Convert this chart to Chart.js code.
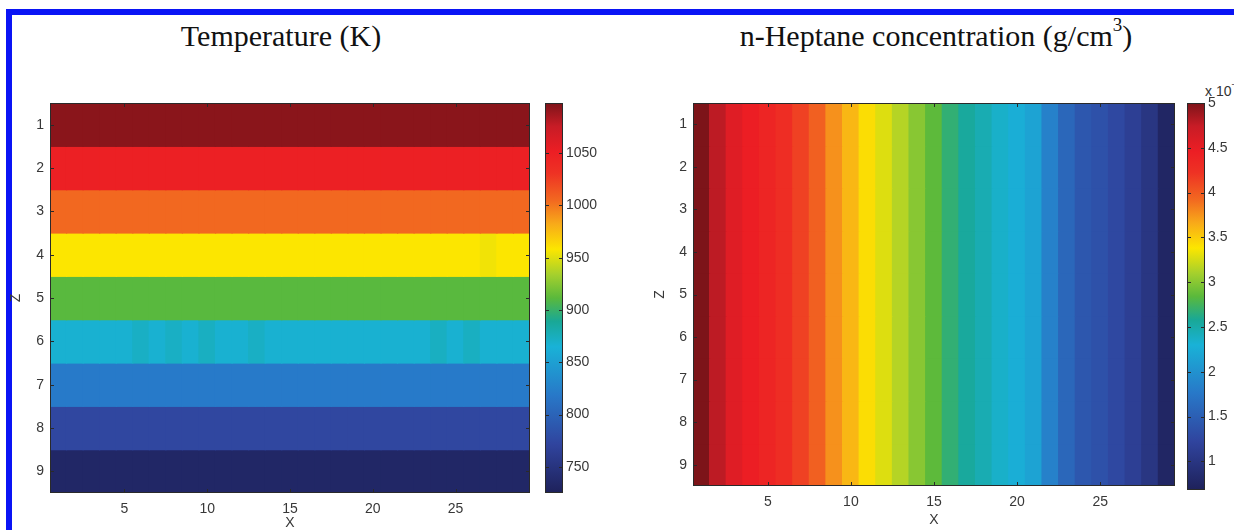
<!DOCTYPE html>
<html>
<head>
<meta charset="utf-8">
<script src="https://cdn.jsdelivr.net/npm/chart.js@4.4.1/dist/chart.umd.min.js"></script>
<style>
  html, body { margin: 0; padding: 0; background: #fff; }
  body { width: 1234px; height: 530px; position: relative; overflow: hidden; }
  canvas { position: absolute; top: 0; }
  .frame { position: absolute; left: 6px; top: 9px; width: 1300px; height: 600px;
           border-top: 6px solid #0a14f5; border-left: 6px solid #0a14f5; }
  .title { position: absolute; top: 21px; font-family: 'Liberation Serif', 'Times New Roman', serif;
           font-size: 30px; line-height: 30px; color: #111; white-space: nowrap; transform: translateX(-50%); }
  .title sup { font-size: 19px; position: relative; top: -4px; vertical-align: super; line-height: 0; }
  .exp { position: absolute; left: 1205px; top: 83px; font-family: 'Liberation Sans Narrow', 'Liberation Sans', sans-serif;
         font-size: 14px; color: #333; white-space: nowrap; }
  .exp sup { font-size: 9px; position: relative; top: -3px; line-height: 0; vertical-align: super; }
</style>
</head>
<body>
<div class="frame"></div>
<div class="title" style="left:281px">Temperature (K)</div>
<div class="title" style="left:936px">n-Heptane concentration (g/cm<sup>3</sup>)</div>
<div class="exp">x 10<sup>-3</sup></div>

<canvas id="tempMap" width="540" height="530" style="left:0px"></canvas>
<canvas id="tempBar" width="80" height="530" style="left:540px"></canvas>
<canvas id="heptMap" width="570" height="530" style="left:620px"></canvas>
<canvas id="heptBar" width="54" height="530" style="left:1180px"></canvas>

<script>
// Grid axes
const xCells = [1, 2, 3, 4, 5, 6, 7, 8, 9, 10, 11, 12, 13, 14, 15, 16, 17, 18, 19, 20, 21, 22, 23, 24, 25, 26, 27, 28, 29];
const zRows = [1, 2, 3, 4, 5, 6, 7, 8, 9];
const xTickVals = [5, 10, 15, 20, 25];
const zTickVals = [1, 2, 3, 4, 5, 6, 7, 8, 9];

// Temperature (K) - every Z row is nearly uniform along X
const tempRowValues = [1094, 1049, 1005, 958, 911, 867, 820, 774, 733];
// the few cells that differ a little from their row: [z, x, K]
const tempCellExceptions = [[6, 6, 872], [6, 8, 872], [6, 10, 873], [6, 13, 872], [6, 24, 873], [6, 26, 873], [4, 27, 955]];
const tempRange = [725, 1098];
const tempBarTicks = [750, 800, 850, 900, 950, 1000, 1050];

// n-Heptane concentration - uniform along Z, one value per X column
const heptColumnValues = [5.00, 4.78, 4.56, 4.46, 4.38, 4.28, 4.14, 3.97, 3.76, 3.60, 3.42, 3.28, 3.15, 3.00, 2.85,
                          2.68, 2.55, 2.46, 2.36, 2.26, 2.16, 1.84, 1.58, 1.42, 1.36, 1.26, 1.14, 1.00, 0.76];
const heptRange = [0.68, 5.0];
const heptBarTicks = [1, 1.5, 2, 2.5, 3, 3.5, 4, 4.5, 5];

// jet-like colormap, as it comes out in the printed figure
const cmapStops = [
    [0.000, [30, 33, 90]],
    [0.125, [48, 68, 158]],
    [0.250, [40, 120, 200]],
    [0.375, [25, 178, 215]],
    [0.440, [25, 168, 150]],
    [0.500, [90, 185, 60]],
    [0.560, [165, 208, 45]],
    [0.625, [252, 230, 0]],
    [0.690, [248, 170, 25]],
    [0.750, [242, 105, 32]],
    [0.820, [238, 50, 36]],
    [0.875, [236, 30, 36]],
    [0.940, [200, 28, 38]],
    [1.000, [125, 20, 25]]
];

function cmap(t) {
    t = Math.max(0, Math.min(1, t));
    for (let i = 1; i < cmapStops.length; i++) {
        const [t1, c1] = cmapStops[i];
        if (t <= t1) {
            const [t0, c0] = cmapStops[i - 1];
            const f = (t - t0) / (t1 - t0);
            const c = c0.map((v, k) => Math.round(v + (c1[k] - v) * f));
            return `rgb(${c[0]},${c[1]},${c[2]})`;
        }
    }
    return 'rgb(125,20,25)';
}

const colorFor = (v, range) => cmap((v - range[0]) / (range[1] - range[0]));

const tempGrid = zRows.map((z, r) => xCells.map(x => {
    const ex = tempCellExceptions.find(e => e[0] === z && e[1] === x);
    return ex ? ex[2] : tempRowValues[r];
}));
const heptGrid = zRows.map(() => heptColumnValues.slice());

const tickFont = { family: "'Liberation Sans Narrow', 'Liberation Sans', sans-serif", size: 14 };
const tickColor = '#383838';
const lineColor = '#2a2a2a';

// MATLAB style box with ticks pointing inwards on every side
const frameTicks = {
    id: 'frameTicks',
    afterDatasetsDraw(chart) {
        const { ctx, chartArea: a } = chart;
        const len = 4;
        ctx.save();
        ctx.strokeStyle = lineColor;
        ctx.lineWidth = 1;
        ctx.strokeRect(Math.round(a.left) + 0.5, Math.round(a.top) + 0.5, Math.round(a.width) - 1, Math.round(a.height) - 1);
        ctx.beginPath();
        const ys = chart.scales.y;
        ys.ticks.forEach((t, i) => {
            const py = Math.round(ys.getPixelForTick(i)) + 0.5;
            ctx.moveTo(a.left, py); ctx.lineTo(a.left + len, py);
            ctx.moveTo(a.right - len, py); ctx.lineTo(a.right, py);
        });
        const xs = chart.scales.x;
        if (xs.options.display !== false) {
            xs.ticks.forEach((t, i) => {
                if (!xTickVals.includes(+xs.getLabelForValue(t.value))) return;
                const px = Math.round(xs.getPixelForTick(i)) + 0.5;
                ctx.moveTo(px, a.top); ctx.lineTo(px, a.top + len);
                ctx.moveTo(px, a.bottom - len); ctx.lineTo(px, a.bottom);
            });
        }
        ctx.stroke();
        ctx.restore();
    }
};

function heatmap(id, grid, range, box) {
    return new Chart(document.getElementById(id), {
        type: 'bar',
        data: {
            labels: xCells,
            datasets: zRows.map((z, r) => ({
                data: xCells.map(() => [z - 0.5, z + 0.5]),
                backgroundColor: grid[r].map(v => colorFor(v, range)),
                borderWidth: 0,
                inflateAmount: 0.6,
                grouped: false,
                barPercentage: 1,
                categoryPercentage: 1
            }))
        },
        options: {
            responsive: false,
            animation: false,
            devicePixelRatio: 1,
            layout: { padding: { top: 103, right: box.padRight, left: 0, bottom: 0 } },
            plugins: { legend: { display: false }, tooltip: { enabled: false } },
            scales: {
                x: {
                    type: 'category',
                    offset: true,
                    grid: { display: false, drawTicks: false },
                    border: { display: false },
                    ticks: {
                        autoSkip: false, maxRotation: 0, minRotation: 0, padding: 8,
                        font: tickFont, color: tickColor,
                        callback: function (val) {
                            const lab = this.getLabelForValue(val);
                            return xTickVals.includes(+lab) ? String(lab) : '';
                        }
                    },
                    title: { display: true, text: 'X', color: tickColor, font: { ...tickFont, lineHeight: 1 },
                             padding: { top: 0, bottom: box.xTitlePad } },
                    afterFit: s => { s.height = box.xAxisH; }
                },
                y: {
                    type: 'linear',
                    reverse: true,
                    min: 0.5,
                    max: 9.5,
                    grid: { display: false, drawTicks: false },
                    border: { display: false },
                    ticks: { padding: 6, font: tickFont, color: tickColor, callback: v => String(v) },
                    afterBuildTicks: s => { s.ticks = zTickVals.map(v => ({ value: v })); },
                    title: { display: true, text: 'Z', color: tickColor, font: { ...tickFont, lineHeight: 1 },
                             padding: { top: box.zTitlePad, bottom: 0 } },
                    afterFit: s => { s.width = box.yAxisW; }
                }
            }
        },
        plugins: [frameTicks]
    });
}

function colorbar(id, range, ticks, box) {
    const gradient = chart => {
        const a = chart.chartArea;
        if (!a) return null;
        const g = chart.ctx.createLinearGradient(0, a.bottom, 0, a.top);
        cmapStops.forEach(([t, c]) => g.addColorStop(t, `rgb(${c[0]},${c[1]},${c[2]})`));
        return g;
    };
    return new Chart(document.getElementById(id), {
        type: 'bar',
        data: {
            labels: ['cb'],
            datasets: [{
                data: [[range[0], range[1]]],
                backgroundColor: c => gradient(c.chart),
                borderWidth: 0,
                inflateAmount: 0,
                barPercentage: 1,
                categoryPercentage: 1
            }]
        },
        options: {
            responsive: false,
            animation: false,
            devicePixelRatio: 1,
            layout: { padding: { top: 103, left: box.padLeft, right: 0, bottom: box.padBottom } },
            plugins: { legend: { display: false }, tooltip: { enabled: false } },
            scales: {
                x: { display: false },
                y: {
                    position: 'right',
                    min: range[0],
                    max: range[1],
                    grid: { display: false, drawTicks: false },
                    border: { display: false },
                    ticks: { padding: 3, font: tickFont, color: tickColor, callback: v => String(v) },
                    afterBuildTicks: s => { s.ticks = ticks.map(v => ({ value: v })); },
                    afterFit: s => { s.width = box.axisW; }
                }
            }
        },
        plugins: [frameTicks]
    });
}

heatmap('tempMap', tempGrid, tempRange, { padRight: 10, yAxisW: 50, xAxisH: 37, zTitlePad: 9.5, xTitlePad: 0 });
colorbar('tempBar', tempRange, tempBarTicks, { padLeft: 5, padBottom: 37, axisW: 57 });
heatmap('heptMap', heptGrid, heptRange, { padRight: 15, yAxisW: 73, xAxisH: 44, zTitlePad: 33.5, xTitlePad: 2.5 });
colorbar('heptBar', heptRange, heptBarTicks, { padLeft: 7, padBottom: 40, axisW: 29 });
</script>
</body>
</html>
